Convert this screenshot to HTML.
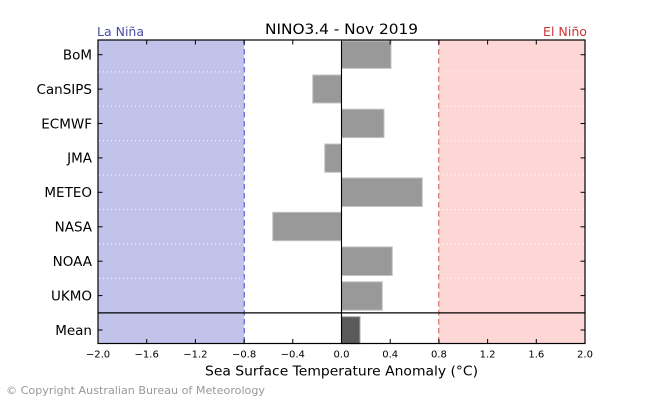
<!DOCTYPE html>
<html><head><meta charset="utf-8"><style>
html,body{margin:0;padding:0;background:#fff;}
svg{display:block;}
text{font-family:"DejaVu Sans","Liberation Sans",sans-serif;}
</style></head><body>
<svg width="650" height="400" viewBox="0 0 650 400" xmlns="http://www.w3.org/2000/svg">
<rect x="0" y="0" width="650" height="400" fill="#fff"/>
<!-- regions -->
<rect x="98" y="40" width="146.1" height="303.5" fill="#c2c3eb"/>
<rect x="438.9" y="40" width="146.1" height="303.5" fill="#fdd6d6"/>
<!-- dotted separators -->
<g stroke="#fff" stroke-width="1" stroke-dasharray="1,3">
<line x1="99" y1="71.9" x2="584" y2="71.9"/>
<line x1="99" y1="106.3" x2="584" y2="106.3"/>
<line x1="99" y1="140.7" x2="584" y2="140.7"/>
<line x1="99" y1="175.1" x2="584" y2="175.1"/>
<line x1="99" y1="209.5" x2="584" y2="209.5"/>
<line x1="99" y1="244.0" x2="584" y2="244.0"/>
<line x1="99" y1="278.4" x2="584" y2="278.4"/>
</g>
<!-- dashed thresholds -->
<line x1="244.3" y1="40" x2="244.3" y2="343.5" stroke="#6a6ad8" stroke-width="1.3" stroke-dasharray="5.5,3.5"/>
<line x1="438.7" y1="40" x2="438.7" y2="343.5" stroke="#e07a7a" stroke-width="1.3" stroke-dasharray="5.5,3.5"/>
<!-- bars -->
<g fill="#999999" stroke="#c4c4c4" stroke-width="1">
<rect x="341.5" y="41" width="49.5" height="27.4"/>
<rect x="312.7" y="75" width="28.8" height="28"/>
<rect x="341.5" y="109.2" width="42.5" height="28.4"/>
<rect x="324.7" y="144" width="16.8" height="28.3"/>
<rect x="341.5" y="177.9" width="80.8" height="28.6"/>
<rect x="272.7" y="212.3" width="68.8" height="28.4"/>
<rect x="341.5" y="246.9" width="50.8" height="28.6"/>
<rect x="341.5" y="281.8" width="40.8" height="28.4"/>
</g>
<rect x="341.5" y="316.7" width="18.5" height="27" fill="#5a5a5a" stroke="#aaaaaa" stroke-width="1"/>
<!-- zero line -->
<line x1="341.5" y1="40" x2="341.5" y2="343.5" stroke="#000" stroke-width="1.1"/>
<!-- mean separator -->
<line x1="98" y1="312.9" x2="585" y2="312.9" stroke="#000" stroke-width="1.2"/>
<!-- frame -->
<rect x="98" y="40" width="487" height="303.5" fill="none" stroke="#000" stroke-width="1.2"/>
<!-- x ticks -->
<g stroke="#000" stroke-width="1">
<line x1="146.7" y1="343.5" x2="146.7" y2="339"/><line x1="146.7" y1="40" x2="146.7" y2="44.5"/>
<line x1="195.4" y1="343.5" x2="195.4" y2="339"/><line x1="195.4" y1="40" x2="195.4" y2="44.5"/>
<line x1="244.1" y1="343.5" x2="244.1" y2="339"/><line x1="244.1" y1="40" x2="244.1" y2="44.5"/>
<line x1="292.8" y1="343.5" x2="292.8" y2="339"/><line x1="292.8" y1="40" x2="292.8" y2="44.5"/>
<line x1="390.2" y1="343.5" x2="390.2" y2="339"/><line x1="390.2" y1="40" x2="390.2" y2="44.5"/>
<line x1="438.9" y1="343.5" x2="438.9" y2="339"/><line x1="438.9" y1="40" x2="438.9" y2="44.5"/>
<line x1="487.6" y1="343.5" x2="487.6" y2="339"/><line x1="487.6" y1="40" x2="487.6" y2="44.5"/>
<line x1="536.3" y1="343.5" x2="536.3" y2="339"/><line x1="536.3" y1="40" x2="536.3" y2="44.5"/>
</g>
<!-- y ticks -->
<g stroke="#000" stroke-width="1">
<line x1="98" y1="54.7" x2="102.5" y2="54.7"/><line x1="585" y1="54.7" x2="580.5" y2="54.7"/>
<line x1="98" y1="89.1" x2="102.5" y2="89.1"/><line x1="585" y1="89.1" x2="580.5" y2="89.1"/>
<line x1="98" y1="123.5" x2="102.5" y2="123.5"/><line x1="585" y1="123.5" x2="580.5" y2="123.5"/>
<line x1="98" y1="157.9" x2="102.5" y2="157.9"/><line x1="585" y1="157.9" x2="580.5" y2="157.9"/>
<line x1="98" y1="192.3" x2="102.5" y2="192.3"/><line x1="585" y1="192.3" x2="580.5" y2="192.3"/>
<line x1="98" y1="226.8" x2="102.5" y2="226.8"/><line x1="585" y1="226.8" x2="580.5" y2="226.8"/>
<line x1="98" y1="261.2" x2="102.5" y2="261.2"/><line x1="585" y1="261.2" x2="580.5" y2="261.2"/>
<line x1="98" y1="295.6" x2="102.5" y2="295.6"/><line x1="585" y1="295.6" x2="580.5" y2="295.6"/>
<line x1="98" y1="330.0" x2="102.5" y2="330.0"/><line x1="585" y1="330.0" x2="580.5" y2="330.0"/>
</g>
<!-- y labels -->
<g font-size="13.5" fill="#000" text-anchor="end">
<text x="92" y="59.5">BoM</text>
<text x="92" y="93.9">CanSIPS</text>
<text x="92" y="128.3">ECMWF</text>
<text x="92" y="162.7">JMA</text>
<text x="92" y="197.1">METEO</text>
<text x="92" y="231.6">NASA</text>
<text x="92" y="266.0">NOAA</text>
<text x="92" y="300.4">UKMO</text>
<text x="92" y="334.8">Mean</text>
</g>
<!-- x tick labels -->
<g font-size="10" fill="#000" text-anchor="middle">
<text x="98" y="357.5">−2.0</text>
<text x="146.7" y="357.5">−1.6</text>
<text x="195.4" y="357.5">−1.2</text>
<text x="244.1" y="357.5">−0.8</text>
<text x="292.8" y="357.5">−0.4</text>
<text x="341.5" y="357.5">0.0</text>
<text x="390.2" y="357.5">0.4</text>
<text x="438.9" y="357.5">0.8</text>
<text x="487.6" y="357.5">1.2</text>
<text x="536.3" y="357.5">1.6</text>
<text x="585" y="357.5">2.0</text>
</g>
<!-- titles -->
<text x="341.5" y="34" font-size="14" text-anchor="middle" fill="#000" textLength="153" lengthAdjust="spacingAndGlyphs">NINO3.4 - Nov 2019</text>
<text x="97" y="36" font-size="12" fill="#4a4aa6" textLength="47" lengthAdjust="spacingAndGlyphs">La Niña</text>
<text x="587" y="36" font-size="12" fill="#cc3333" text-anchor="end" textLength="44" lengthAdjust="spacingAndGlyphs">El Niño</text>
<text x="341.5" y="375.5" font-size="13.5" text-anchor="middle" fill="#000" textLength="273" lengthAdjust="spacingAndGlyphs">Sea Surface Temperature Anomaly (°C)</text>
<text x="6" y="394" font-size="11" fill="#999" textLength="259" lengthAdjust="spacingAndGlyphs">© Copyright Australian Bureau of Meteorology</text>
</svg>
</body></html>
